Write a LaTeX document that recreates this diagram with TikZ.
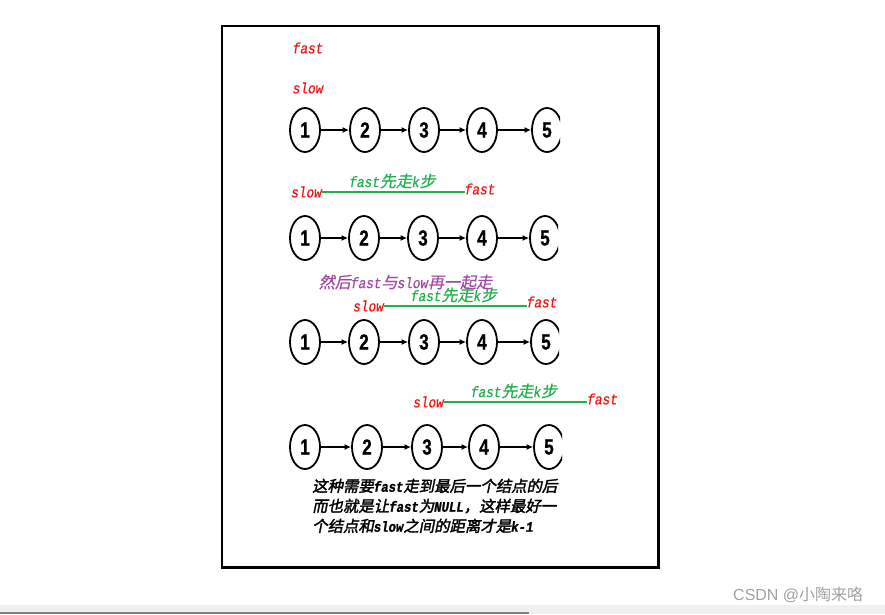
\documentclass[tikz,border=0pt]{standalone}
\usepackage{fontspec}
\usetikzlibrary{shapes.geometric,arrows.meta}
\newfontfamily\monofam[FakeStretch=0.85,FakeBold=0.6]{Liberation Mono}
\newfontfamily\monobold[FakeStretch=0.85,FakeBold=1.2]{Liberation Mono}
\newfontfamily\cjkfam[FakeSlant=0.2,FakeBold=0.6]{Noto Sans CJK SC}
\newfontfamily\cjkbold[FakeSlant=0.2,FakeBold=2]{Noto Sans CJK SC}
\newfontfamily\digfam[FakeStretch=0.78,FakeBold=0.8]{Liberation Sans}
\newfontfamily\wmfam{Liberation Sans}
\newfontfamily\wmcjk{Noto Sans CJK SC}
\newcommand{\LA}[1]{{\fontsize{15}{17}\selectfont\monofam\itshape #1}}
\newcommand{\ZH}[1]{{\fontsize{16}{18}\selectfont\cjkfam #1}}
\newcommand{\LB}[1]{{\fontsize{14.5}{20}\selectfont\monobold\bfseries\itshape #1}}
\newcommand{\ZB}[1]{{\fontsize{15.4}{20}\selectfont\cjkbold #1}}
\definecolor{redtxt}{RGB}{240,20,20}
\definecolor{grn}{RGB}{34,177,76}
\definecolor{purp}{RGB}{163,73,164}
\definecolor{wm}{RGB}{160,160,160}
\definecolor{stripbg}{RGB}{240,240,240}
\definecolor{stripbar}{RGB}{128,128,128}
\tikzset{
  lnode/.style={ellipse,draw=black,line width=1.8pt,minimum width=30pt,minimum height=44pt,inner sep=0pt,fill=white,font=\digfam\bfseries\fontsize{22}{22}\selectfont},
  link/.style={line width=1.7pt,-{Latex[length=6.5pt,width=6pt]}},
  ptr/.style={text=redtxt,inner sep=0pt},
  glabel/.style={text=grn,inner sep=0pt},
  gline/.style={draw=grn,line width=1.8pt},
  note/.style={inner sep=0pt,align=left,font=\fontsize{15.4}{20}\selectfont}
}
\begin{document}
\begin{tikzpicture}[x=1pt,y=-1pt]
\useasboundingbox (0,0) rectangle (885,614);
% bottom strip
\fill[stripbg] (0,605) rectangle (885,614);
\fill[stripbar] (0,611.5) rectangle (529,614);
% frame
\draw[line width=2.5pt] (222,26) rectangle (658.5,567.5);
% rows of nodes
\foreach \row/\y/\xa/\xb/\xc/\xd/\xe in {1/130/305/365/424/482/547,2/238/305/364/423/482/545,3/342/305/364/424/482/546,4/447/305/367/427/484/549}{
  \begin{scope}
    \clip (280,\y-30) rectangle (\xe+13,\y+30);
    \node[lnode] (r\row n1) at (\xa,\y) {1};
    \node[lnode] (r\row n2) at (\xb,\y) {2};
    \node[lnode] (r\row n3) at (\xc,\y) {3};
    \node[lnode] (r\row n4) at (\xd,\y) {4};
    \node[lnode] (r\row n5) at (\xe,\y) {5};
    \draw[link] (r\row n1) -- (r\row n2);
    \draw[link] (r\row n2) -- (r\row n3);
    \draw[link] (r\row n3) -- (r\row n4);
    \draw[link] (r\row n4) -- (r\row n5);
  \end{scope}
}
% row 1 labels
\node[ptr] (f1) at (308,48) {\LA{fast}};
\node[ptr] (s1) at (308,88) {\LA{slow}};
% row 2 labels
\node[ptr] (s2) at (306.5,192) {\LA{slow}};
\node[ptr] (f2) at (480,189) {\LA{fast}};
\node[glabel] (g2) at (392.5,181) {\LA{fast}\ZH{先走}\LA{k}\ZH{步}};
\draw[gline] (s2.east) -- (s2.east -| f2.west);
% row 3 labels
\node[inner sep=0pt,text=purp] (p3) at (405.5,282) {\ZH{然后}\LA{fast}\ZH{与}\LA{slow}\ZH{再一起走}};
\node[ptr] (s3) at (368.5,306) {\LA{slow}};
\node[ptr] (f3) at (542,302) {\LA{fast}};
\node[glabel] (g3) at (454,295) {\LA{fast}\ZH{先走}\LA{k}\ZH{步}};
\draw[gline] (s3.east) -- (s3.east -| f3.west);
% row 4 labels
\node[ptr] (s4) at (428.5,402) {\LA{slow}};
\node[ptr] (f4) at (602.5,399) {\LA{fast}};
\node[glabel] (g4) at (514,391) {\LA{fast}\ZH{先走}\LA{k}\ZH{步}};
\draw[gline] (s4.east) -- (s4.east -| f4.west);
% bottom note
\node[note,anchor=north west] (t1) at (312,478.5) {\ZB{这种需要}\LB{fast}\ZB{走到最后一个结点的后}\\
\ZB{而也就是让}\LB{fast}\ZB{为}\LB{NULL}\ZB{，这样最好一}\\
\ZB{个结点和}\LB{slow}\ZB{之间的距离才是}\LB{k-1}};
% watermark
\node[inner sep=0pt,anchor=west,text=wm] (wm) at (733,595) {\fontsize{16}{18}\selectfont\wmfam CSDN @\wmcjk 小陶来咯};
\end{tikzpicture}
\end{document}
